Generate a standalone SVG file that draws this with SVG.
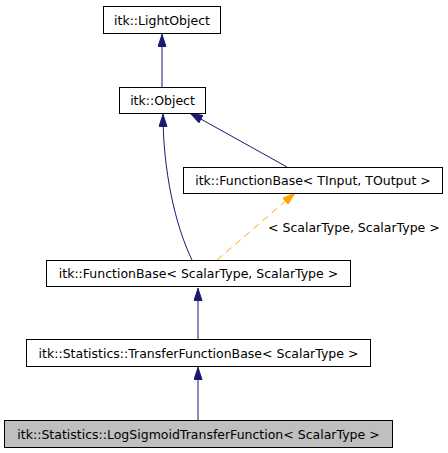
<svg xmlns="http://www.w3.org/2000/svg" width="448" height="453" viewBox="0 0 448 453">
<style>
.box{fill:#ffffff;stroke:#000000;stroke-width:1}
.cur{fill:#bfbfbf;stroke:#000000;stroke-width:1}
text{font-family:"DejaVu Sans",sans-serif;font-size:12.5px;fill:#000000}
.e{fill:none;stroke:#191970;stroke-width:1}
.d{fill:none;stroke:#ffa500;stroke-width:1;stroke-dasharray:7,5}
</style>
<defs>
<marker id="an" viewBox="0 0 13 9" refX="13" refY="4.5" markerWidth="13" markerHeight="9" markerUnits="userSpaceOnUse" orient="auto">
<path d="M0.5,0.5 L12.5,4.5 L0.5,8.5 z" fill="#191970" stroke="#191970"/>
</marker>
<marker id="ao" viewBox="0 0 13 9" refX="13" refY="4.5" markerWidth="13" markerHeight="9" markerUnits="userSpaceOnUse" orient="auto">
<path d="M0.5,0.5 L12.5,4.5 L0.5,8.5 z" fill="#ffa500" stroke="#ffa500"/>
</marker>
</defs>
<g id="edges">
<path class="e" d="M162,87 L162,34" marker-end="url(#an)"/>
<path class="e" d="M192,260 C175,225 163,170 163,114" marker-end="url(#an)"/>
<path class="e" d="M287,167 L190,113" marker-end="url(#an)"/>
<path class="d" d="M217,260 L295,193" marker-end="url(#ao)"/>
<text x="268" y="232">&lt; ScalarType, ScalarType &gt;</text>
<path class="e" d="M198,339 L198,288" marker-end="url(#an)"/>
<path class="e" d="M198,420 L198,367" marker-end="url(#an)"/>
</g>
<g id="lightobject">
<rect class="box" x="103.5" y="6.5" width="117" height="27"/>
<text x="162" y="24.5" text-anchor="middle">itk::LightObject</text>
</g>
<g id="object">
<rect class="box" x="119.5" y="87.5" width="86" height="26"/>
<text x="162.5" y="105" text-anchor="middle">itk::Object</text>
</g>
<g id="functionbase_tinput">
<rect class="box" x="183.5" y="167.5" width="259" height="26"/>
<text x="313" y="185" text-anchor="middle">itk::FunctionBase&lt; TInput, TOutput &gt;</text>
</g>
<g id="functionbase_scalar">
<rect class="box" x="46.5" y="260.5" width="304" height="26"/>
<text x="198.5" y="278" text-anchor="middle">itk::FunctionBase&lt; ScalarType, ScalarType &gt;</text>
</g>
<g id="transferfunctionbase">
<rect class="box" x="26.5" y="339.5" width="344" height="27"/>
<text x="198.5" y="357.5" text-anchor="middle">itk::Statistics::TransferFunctionBase&lt; ScalarType &gt;</text>
</g>
<g id="logsigmoid">
<rect class="cur" x="4.5" y="420.5" width="388" height="27"/>
<text x="198.5" y="438.5" text-anchor="middle">itk::Statistics::LogSigmoidTransferFunction&lt; ScalarType &gt;</text>
</g>
</svg>
